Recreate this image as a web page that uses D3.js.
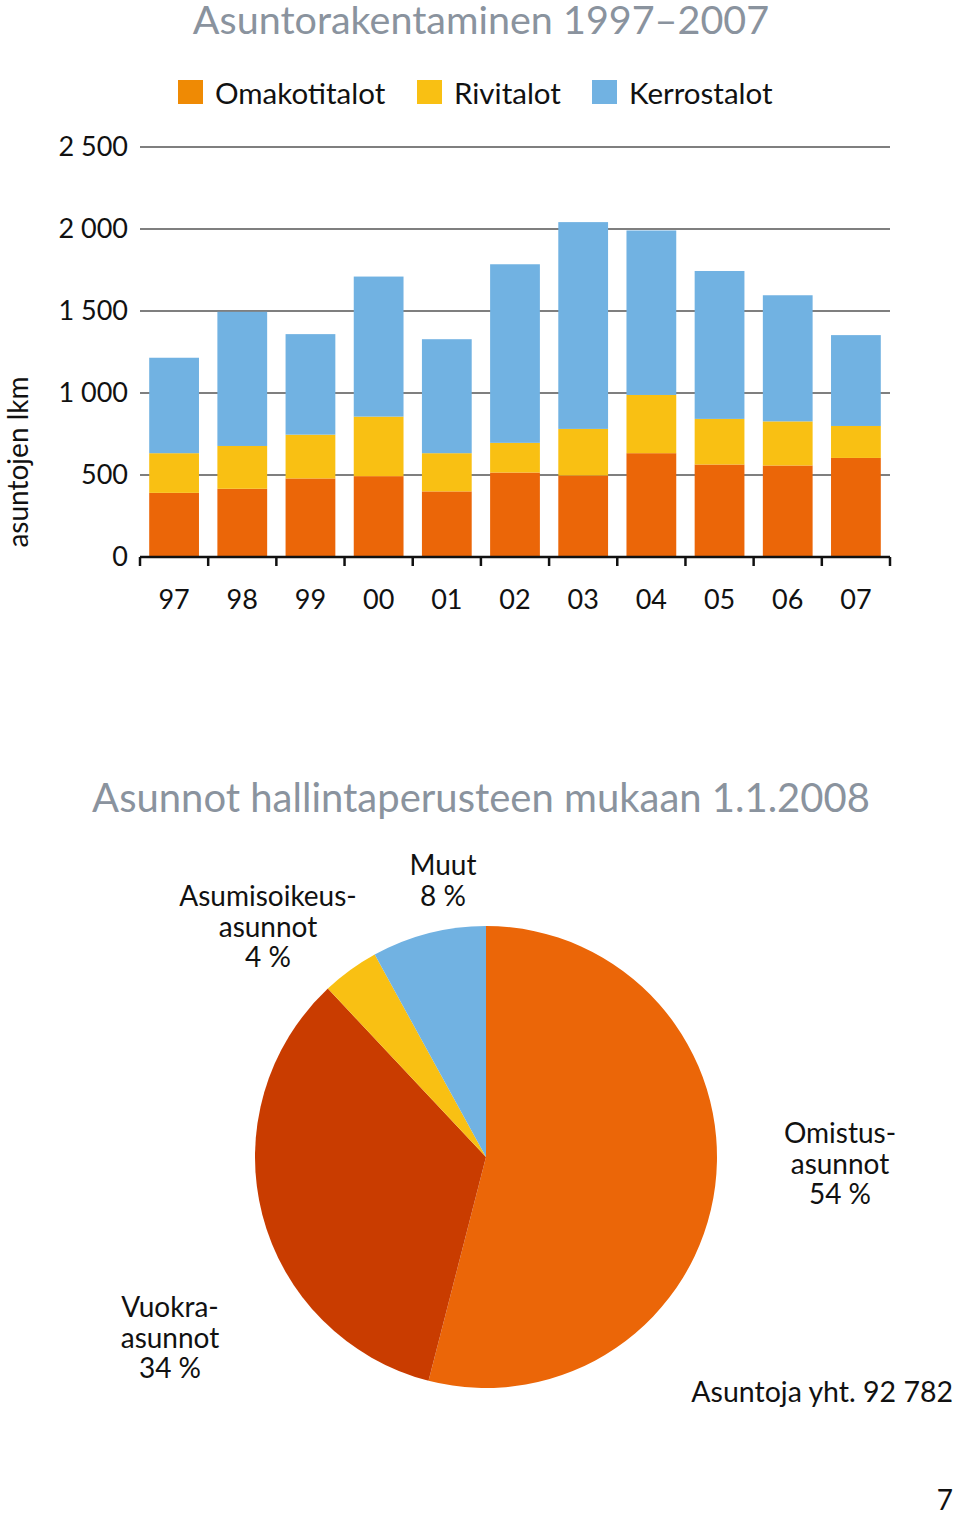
<!DOCTYPE html>
<html>
<head>
<meta charset="utf-8">
<script src="https://cdn.jsdelivr.net/npm/d3@7"></script>
<style>
  body { margin: 0; background: #fff; }
  text { font-family: Lato, "Open Sans", sans-serif; }
</style>
</head>
<body>
<svg id="chart" width="960" height="1518"></svg>
<script>
// Bar chart data: housing production by building type
const years = ["97", "98", "99", "00", "01", "02", "03", "04", "05", "06", "07"];
const omakotitalot = [391, 416, 479, 493, 400, 515, 497, 633, 564, 558, 604];
const rivitalot = [242, 261, 267, 363, 233, 181, 284, 355, 278, 269, 195];
const kerrostalot = [582, 818, 613, 854, 695, 1089, 1261, 1003, 902, 769, 554];
const seriesNames = ["Omakotitalot", "Rivitalot", "Kerrostalot"];
const yTicks = [0, 500, 1000, 1500, 2000, 2500];

// Pie chart data: dwellings by tenure 1.1.2008
const pieShares = [54, 34, 4, 8];
const pieLabels = [["Omistus-", "asunnot", "54 %"], ["Vuokra-", "asunnot", "34 %"],
                   ["Asumisoikeus-", "asunnot", "4 %"], ["Muut", "8 %"]];
const totalDwellings = 92782;

const barColors = ["#eb6608", "#f9c013", "#71b2e2"];
const legendColors = ["#ef8a04", "#f9c013", "#71b2e2"];
const pieColors = ["#eb6608", "#c93c00", "#f9c013", "#71b2e2"];
const titleColor = "#8a939e";

let svg = d3.select("#chart");

// ---------- bar chart ----------
let plotLeft = 140, plotRight = 890, plotTop = 147, plotBottom = 557;

let rows = years.map((y, i) => ({year: y, Omakotitalot: omakotitalot[i], Rivitalot: rivitalot[i], Kerrostalot: kerrostalot[i]}));
let stacked = d3.stack().keys(seriesNames)(rows);

let x = d3.scaleBand().domain(years).range([plotLeft, plotRight]).paddingInner(0.27).paddingOuter(0.135);
let y = d3.scaleLinear().domain([0, 2500]).range([plotBottom, plotTop]);

svg.append("text")
    .attr("x", 481).attr("y", 34)
    .attr("text-anchor", "middle")
    .attr("font-size", 39.5)
    .attr("fill", titleColor)
    .text("Asuntorakentaminen 1997–2007");

// gridlines
svg.append("g").selectAll("line").data(yTicks.filter(d => d > 0)).enter().append("line")
    .attr("x1", plotLeft).attr("x2", plotRight)
    .attr("y1", d => y(d)).attr("y2", d => y(d))
    .attr("stroke", "#555").attr("stroke-width", 1.5);

// bars
svg.append("g").selectAll("g").data(stacked).enter().append("g")
    .attr("fill", (d, i) => barColors[i])
    .selectAll("rect").data(d => d).enter().append("rect")
    .attr("x", d => x(d.data.year))
    .attr("y", d => y(d[1]))
    .attr("width", x.bandwidth())
    .attr("height", d => y(d[0]) - y(d[1]));

// y tick labels
svg.append("g").selectAll("text").data(yTicks).enter().append("text")
    .attr("x", 128).attr("y", d => y(d) + 9)
    .attr("text-anchor", "end")
    .attr("font-size", 27)
    .attr("fill", "#111")
    .text(d => d3.format(",")(d).replace(",", " "));

// x axis line with ticks at band edges
let edges = d3.range(years.length + 1).map(i => plotLeft + i * (plotRight - plotLeft) / years.length);
svg.append("line")
    .attr("x1", plotLeft).attr("x2", plotRight).attr("y1", plotBottom).attr("y2", plotBottom)
    .attr("stroke", "#111").attr("stroke-width", 2.5);
svg.append("g").selectAll("line").data(edges).enter().append("line")
    .attr("x1", d => d).attr("x2", d => d)
    .attr("y1", plotBottom).attr("y2", plotBottom + 9)
    .attr("stroke", "#111").attr("stroke-width", 2.5);

svg.append("g").selectAll("text").data(years).enter().append("text")
    .attr("x", d => x(d) + x.bandwidth() / 2)
    .attr("y", 609)
    .attr("text-anchor", "middle")
    .attr("font-size", 27)
    .attr("fill", "#111")
    .text(d => d);

svg.append("text")
    .attr("transform", "translate(28,462) rotate(-90)")
    .attr("text-anchor", "middle")
    .attr("font-size", 28)
    .attr("fill", "#111")
    .text("asuntojen lkm");

// legend
let legendX = [178, 417, 592];
let legend = svg.append("g").selectAll("g").data(seriesNames).enter().append("g")
    .attr("transform", (d, i) => `translate(${legendX[i]},80)`);
legend.append("rect").attr("width", 25).attr("height", 24).attr("fill", (d, i) => legendColors[i]);
legend.append("text")
    .attr("x", 37).attr("y", 24)
    .attr("font-size", 29.5)
    .attr("fill", "#111")
    .text(d => d);

// ---------- pie chart ----------
svg.append("text")
    .attr("x", 481).attr("y", 812)
    .attr("text-anchor", "middle")
    .attr("font-size", 40)
    .attr("fill", titleColor)
    .text("Asunnot hallintaperusteen mukaan 1.1.2008");

let cx = 486, cy = 1157, radius = 231;
let pie = d3.pie().sort(null).value(d => d);
let arc = d3.arc().innerRadius(0).outerRadius(radius);

svg.append("g").attr("transform", `translate(${cx},${cy})`)
    .selectAll("path").data(pie(pieShares)).enter().append("path")
    .attr("d", arc)
    .attr("fill", (d, i) => pieColors[i]);

// label anchors (baseline of first line)
let labelPos = [[840, 1143], [170, 1317], [268, 906], [443, 875]];
let lab = svg.append("g").selectAll("text").data(pieLabels).enter().append("text")
    .attr("x", (d, i) => labelPos[i][0])
    .attr("y", (d, i) => labelPos[i][1])
    .attr("text-anchor", "middle")
    .attr("font-size", 28)
    .attr("fill", "#111");
lab.selectAll("tspan").data(d => d).enter().append("tspan")
    .attr("x", function() { return this.parentNode.getAttribute("x"); })
    .attr("dy", (d, i) => i === 0 ? 0 : 30.5)
    .text(d => d);

svg.append("text")
    .attr("x", 953).attr("y", 1402)
    .attr("text-anchor", "end")
    .attr("font-size", 28.5)
    .attr("fill", "#111")
    .text("Asuntoja yht. " + d3.format(",")(totalDwellings).replace(",", " "));

svg.append("text")
    .attr("x", 953).attr("y", 1510)
    .attr("text-anchor", "end")
    .attr("font-size", 28)
    .attr("fill", "#111")
    .text("7");
</script>
</body>
</html>
